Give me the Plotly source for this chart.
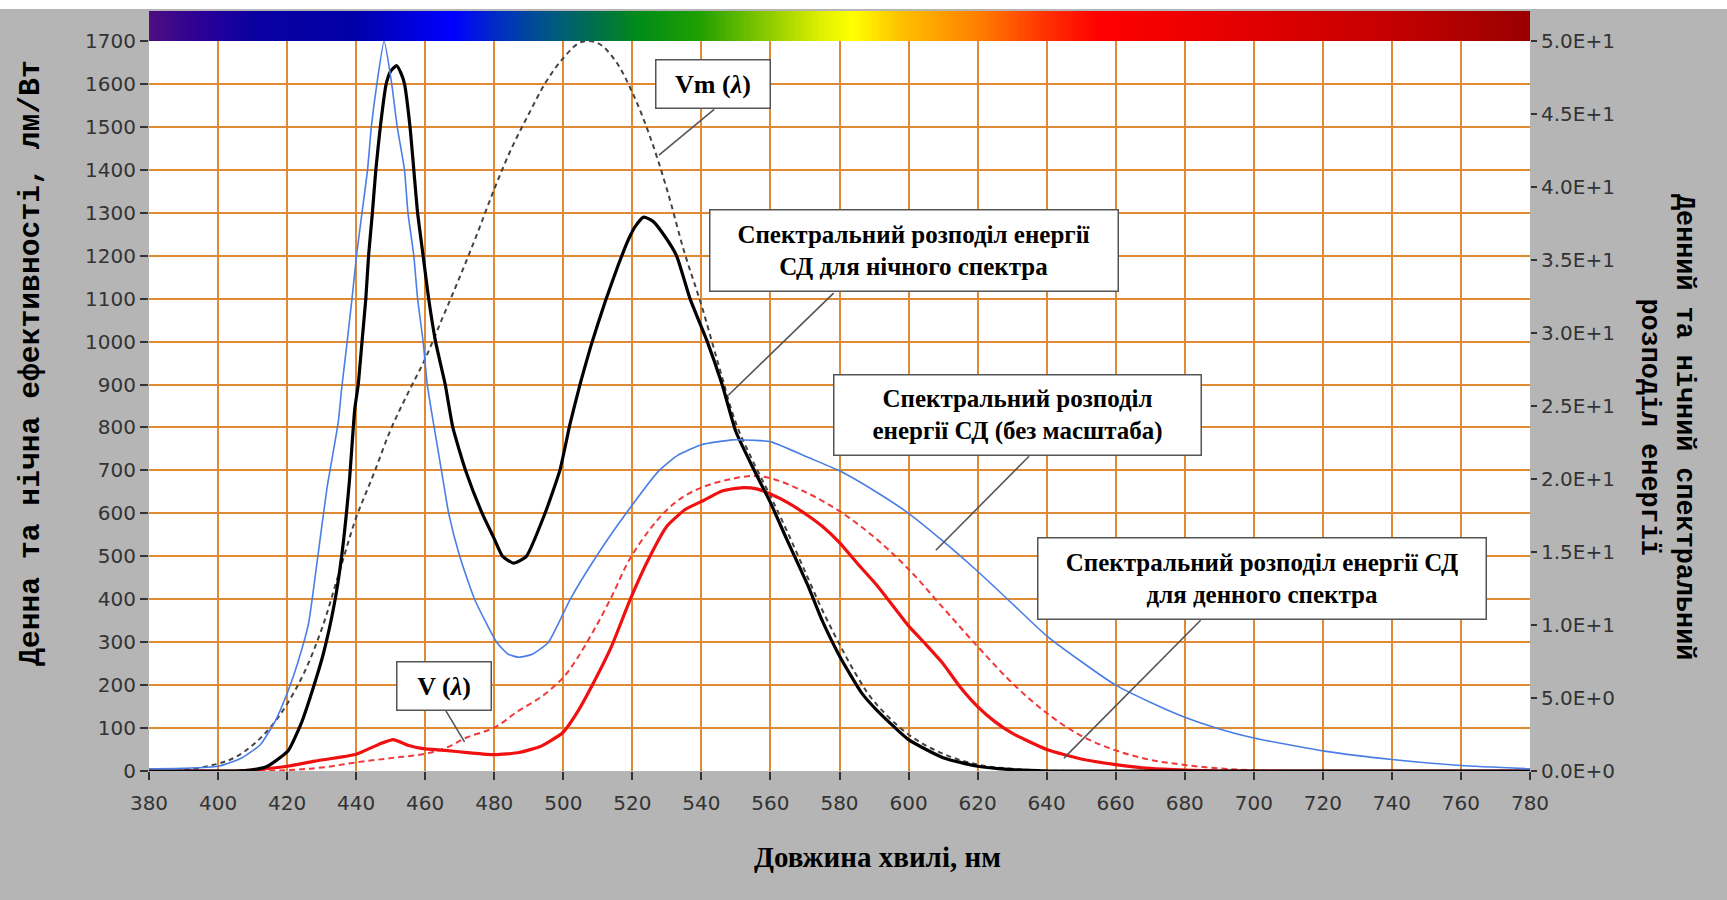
import numpy as np
import plotly.graph_objects as go

# ---------------- data ----------------
# Vm(lambda) - scotopic efficacy, lm/W (black dashed)
wl_vm = [380, 390, 400, 405, 410, 415, 420, 425, 430, 435, 440, 445, 450, 455, 460, 465,
         470, 475, 480, 485, 490, 495, 500, 505, 510, 515, 520, 525, 530, 535, 540, 545,
         550, 555, 560, 565, 570, 575, 580, 585, 590, 600, 610, 620, 630, 640, 660]
vm = [0, 2, 17, 32, 60, 100, 156, 230, 330, 460, 590, 690, 795, 880, 960, 1055,
      1150, 1250, 1355, 1450, 1530, 1605, 1660, 1697, 1695, 1655, 1580, 1480, 1355, 1210, 1085, 945,
      810, 720, 640, 555, 465, 375, 295, 222, 162, 85, 40, 15, 5, 1, 0]

# V(lambda) - photopic efficacy, lm/W (red dashed)
wl_v = [380, 400, 420, 430, 440, 450, 460, 466, 472, 480, 487, 494, 500, 504, 509, 514,
        519, 525, 530, 535, 541, 548, 555, 560, 570, 580, 590, 600, 610, 620, 630, 640,
        650, 660, 670, 680, 690, 700, 710]
v = [0, 0, 2, 8, 20, 30, 40, 54, 78, 101, 140, 175, 218, 262, 330, 406,
     490, 562, 608, 640, 663, 679, 687, 682, 650, 605, 545, 470, 380, 290, 205, 135,
     82, 48, 26, 14, 6, 2, 0]

# LED spectrum for the night spectrum (black solid)
wl_night = [380, 405, 410, 414, 416.6, 420.3, 424, 427.3, 430.5, 433.7, 435.8, 438, 439.6, 440.6,
            441.7, 442.8, 443.6, 444.7, 445.7, 447, 448.7, 450, 451.7, 453, 454, 455.6, 456.7,
            457.8, 459.4, 461, 463, 465.8, 468, 471.7, 476.5, 479.7, 482.4, 485.6, 489.3, 494.7,
            499, 502, 505, 508, 512, 516, 519, 521, 523.3, 526, 529, 532.8, 536.7, 541.7,
            546, 550, 555, 560, 564.7, 570.9, 575, 580, 586.4, 591, 600, 610, 620, 630, 640, 700, 780]
night = [0, 0, 3, 10, 23, 47, 109, 187, 273, 390, 500, 671, 843, 900,
         1000, 1100, 1200, 1300, 1400, 1500, 1600, 1630, 1643, 1625, 1600, 1500, 1400,
         1300, 1200, 1100, 1000, 900, 800, 700, 600, 546, 500, 484, 500, 600,
         700, 810, 905, 990, 1090, 1180, 1240, 1270, 1290, 1280, 1250, 1200, 1100, 1000,
         900, 790, 705, 625, 540, 431, 350, 268, 182, 140, 73, 31, 11, 3, 0, 0, 0]

# LED spectrum for the day spectrum (red solid)
wl_day = [380, 405, 412, 420, 428, 440, 446.5, 450.8, 455, 459.4, 465.8, 472.2, 480.2, 487.2,
          493.6, 499.8, 504.3, 508.6, 513.9, 519.3, 524.6, 530, 535.3, 540.6, 546, 552, 556,
          560, 565, 571, 575, 580, 585, 591, 600, 605, 610, 615, 620, 625, 630, 640, 650,
          660, 670, 680, 690, 780]
day = [0, 0, 4, 11, 23, 39, 62, 73, 60, 52, 48, 43, 38, 43,
       58, 89, 140, 203, 289, 398, 492, 570, 609, 630, 652, 660, 657,
       645, 625, 594, 570, 532, 485, 431, 338, 295, 250, 195, 150, 115, 88, 50, 28,
       15, 6, 2, 0, 0]

# LED spectral distribution without scaling (blue, right axis units)
wl_blue = [380, 390, 400, 407, 412.3, 416.6, 420.3, 423, 426.2, 428.9, 431.5, 434.8, 435.8,
           437.4, 438.8, 440.1, 441.7, 443.3, 444.4, 446, 448.1, 450.3, 451.9, 454, 455, 456.7,
           457.8, 459.4, 460.6, 462.6, 464.7, 466.8, 470, 474.3, 480.7, 484, 487.2, 491, 495.7,
           502, 509.6, 518.2, 527.8, 533, 540, 549, 555, 560, 571, 580, 591, 600, 610, 620, 630,
           640, 650, 660, 670, 680, 690, 700, 720, 740, 760, 780]
blue = [0.15, 0.18, 0.32, 0.91, 1.82, 3.44, 5.5, 7.35, 10.09, 14.71, 19.29, 23.88, 26.18,
        29.41, 32.35, 35.29, 38.24, 41.18, 44.12, 47.06, 50.0, 47.06, 44.12, 41.18, 38.24, 35.29,
        32.35, 29.41, 26.47, 23.53, 20.59, 17.65, 14.71, 11.76, 8.82, 8.0, 7.79, 8.0, 8.82,
        11.76, 14.71, 17.65, 20.59, 21.6, 22.35, 22.68, 22.65, 22.56, 21.47, 20.56, 19.06, 17.65,
        15.74, 13.68, 11.47, 9.26, 7.5, 5.88, 4.71, 3.68, 2.88, 2.26, 1.38, 0.79, 0.38, 0.15]

# axis ticks
x_ticks = list(range(380, 781, 20))
y_left_ticks = list(range(0, 1701, 100))
y_right_ticks = [0, 5, 10, 15, 20, 25, 30, 35, 40, 45, 50]
y_right_labels = ["0.0E+0", "5.0E+0", "1.0E+1", "1.5E+1", "2.0E+1", "2.5E+1",
                  "3.0E+1", "3.5E+1", "4.0E+1", "4.5E+1", "5.0E+1"]

# visible spectrum colour strip (wavelength stops and colours)
spec_nm = [380, 395, 410, 440, 455, 468, 482, 497, 510, 522, 540, 560, 575, 584, 598,
           620, 640, 655, 700, 745, 780]
spec_col = ["#4b0f80", "#2c0096", "#0a00a0", "#0000a8", "#0000d8", "#0000ff", "#0030c0",
            "#005a80", "#007048", "#008c18", "#22a000", "#90cc00", "#e0f000", "#ffff00",
            "#ffc000", "#ff8000", "#ff3000", "#ff0000", "#e00000", "#c00000", "#990000"]

# ---------------- style ----------------
GRID = "#E08A33"
BG = "#b5b5b5"
TICKC = "#333333"
TICKFONT = dict(family="DejaVu Sans", size=20, color=TICKC)
BOXFONT = "Liberation Serif, Times New Roman, serif"
MONO = "Liberation Mono, Courier New, monospace"

fig = go.Figure()

# spectrum strip
strip_x = np.linspace(380, 780, 401)
fig.add_trace(go.Heatmap(
    x=strip_x, y=[0.5], z=[strip_x], xaxis="x", yaxis="y3",
    colorscale=[[(n - 380) / 400, c] for n, c in zip(spec_nm, spec_col)],
    zmin=380, zmax=780, showscale=False, hoverinfo="skip"))

fig.add_trace(go.Scatter(x=wl_vm, y=vm, mode="lines", name="Vm",
                         line=dict(color="#444444", width=2, dash="5px,4px", shape="spline")))
fig.add_trace(go.Scatter(x=wl_v, y=v, mode="lines", name="V",
                         line=dict(color="#f03a3a", width=2, dash="6px,4px", shape="spline")))
fig.add_trace(go.Scatter(x=wl_blue, y=blue, mode="lines", name="no scale", yaxis="y2",
                         line=dict(color="#4a7de6", width=1.6, shape="spline", smoothing=0.5)))
fig.add_trace(go.Scatter(x=wl_day, y=day, mode="lines", name="day",
                         line=dict(color="#f01010", width=3.2, shape="spline", smoothing=0.5)))
fig.add_trace(go.Scatter(x=wl_night, y=night, mode="lines", name="night",
                         line=dict(color="#000000", width=3.2, shape="spline", smoothing=0.5)))

fig.update_layout(
    width=1727, height=900,
    margin=dict(l=149, r=197, t=11, b=129, autoexpand=False),
    paper_bgcolor=BG, plot_bgcolor="white",
    showlegend=False,
    xaxis=dict(range=[380, 780], tickvals=x_ticks, showgrid=True, gridcolor=GRID, gridwidth=2,
               ticks="outside", ticklen=8, tickwidth=2, tickcolor=TICKC, tickfont=TICKFONT,
               ticklabelstandoff=6, zeroline=False, showline=False, anchor="y",
               automargin=False),
    yaxis=dict(range=[0, 1700], tickvals=y_left_ticks, domain=[0, 0.9605],
               showgrid=True, gridcolor=GRID, gridwidth=2, ticks="outside", ticklen=8,
               tickwidth=2, tickcolor=TICKC, tickfont=TICKFONT, zeroline=False, showline=False,
               automargin=False),
    yaxis2=dict(range=[0, 50], overlaying="y", side="right", tickvals=y_right_ticks,
                ticktext=y_right_labels, showgrid=False, ticks="outside", ticklen=6,
                tickwidth=2, tickcolor=TICKC, tickfont=TICKFONT, zeroline=False, showline=False,
                automargin=False),
    yaxis3=dict(domain=[0.9605, 1.0], range=[0, 1], visible=False, anchor="x",
                automargin=False),
)

# white strip at very top
fig.add_shape(type="rect", xref="paper", yref="paper", x0=-0.12, x1=1.16,
              y0=(771 - 9) / 760, y1=1.02, fillcolor="white", line_width=0, layer="above")

# leader lines (box edge -> curve)
leaders = [((543.7, 1541), (527.7, 1434)),
           ((578.3, 1113), (547.8, 875)),
           ((634.9, 733), (607.9, 514)),
           ((684.6, 351), (645.0, 30)),
           ((466.0, 140), (471.4, 68))]
for (x0, y0), (x1, y1) in leaders:
    fig.add_shape(type="line", xref="x", yref="y", x0=x0, y0=y0, x1=x1, y1=y1,
                  line=dict(color="#555555", width=1.6))

boxes = [
    ("<b>Vm (<i>λ</i>)</b>", 543.4, 1599, 116, 50, 26),
    ("<b>Спектральний розподіл енергії<br>СД для нічного спектра</b>", 601.6, 1211.6, 410, 83, 25),
    ("<b>Спектральний розподіл<br>енергії СД (без масштаба)</b>", 631.6, 828.7, 369, 82, 25),
    ("<b>Спектральний розподіл енергії СД<br>для денного спектра</b>", 702.4, 448.1, 450, 83, 25),
    ("<b>V (<i>λ</i>)</b>", 465.4, 197.9, 96, 50, 26),
]
for text, x, y, w, h, fs in boxes:
    fig.add_annotation(text=text, x=x, y=y, xref="x", yref="y", showarrow=False,
                       xanchor="center", yanchor="middle", width=w - 3, height=h - 3,
                       borderpad=0, bgcolor="white", bordercolor="#555555", borderwidth=1.5,
                       font=dict(family=BOXFONT, size=fs, color="black"), align="center")

# axis titles
fig.add_annotation(text="<b>Довжина хвилі, нм</b>", xref="paper", yref="paper",
                   x=(877 - 149) / 1381, y=(771 - 857) / 760, showarrow=False,
                   xanchor="center", yanchor="middle",
                   font=dict(family=BOXFONT, size=29, color="black"))
fig.add_annotation(text="Денна та нічна ефективності, лм/Вт", xref="paper", yref="paper",
                   x=(31 - 149) / 1381, y=(771 - 363) / 760, showarrow=False, textangle=-90,
                   xanchor="center", yanchor="middle",
                   font=dict(family=MONO, size=29.7, color="black", weight="bold"))
fig.add_annotation(text="Денний та нічний спектральний<br>розподіл енергії", xref="paper",
                   yref="paper", x=(1666 - 149) / 1381, y=(771 - 427) / 760, showarrow=False,
                   textangle=90, xanchor="center", yanchor="middle",
                   font=dict(family=MONO, size=26.8, color="black", weight="bold"))

fig.write_html("out.html")
